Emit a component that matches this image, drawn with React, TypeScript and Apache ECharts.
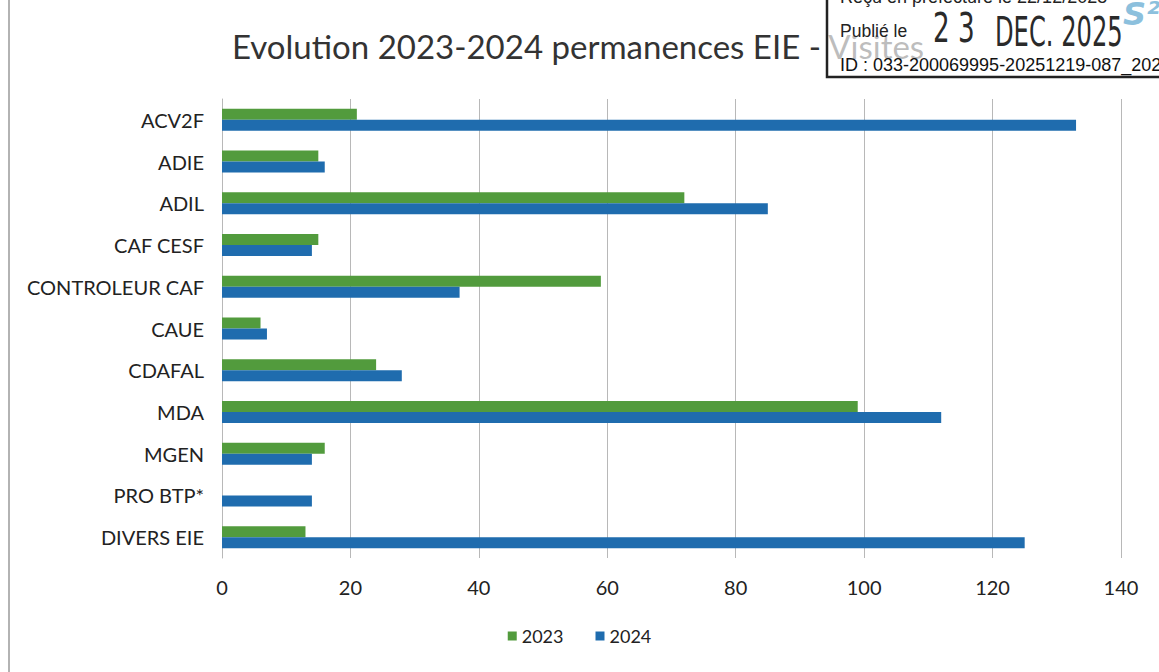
import React, { useEffect, useRef } from "react";
import * as echarts from "echarts";

const categories = [
  "ACV2F",
  "ADIE",
  "ADIL",
  "CAF CESF",
  "CONTROLEUR CAF",
  "CAUE",
  "CDAFAL",
  "MDA",
  "MGEN",
  "PRO BTP*",
  "DIVERS EIE",
];
const seriesNames = ["2023", "2024"];
const values2023 = [21, 15, 72, 15, 59, 6, 24, 99, 16, 0, 13];
const values2024 = [133, 16, 85, 14, 37, 7, 28, 112, 14, 14, 125];
const xMin = 0;
const xMax = 140;
const xInterval = 20;

const titleText = "Evolution 2023-2024 permanences EIE - Visites";
const stampReceived = "Reçu en préfecture le 22/12/2025";
const stampPublished = "Publié le";
const stampDay = "2 3";
const stampMonthYear = "DEC. 2025";
const stampId = "ID : 033-200069995-20251219-087_202";
const stampLogo = "S²L";

export default function App() {
  const ref = useRef<HTMLDivElement>(null);
  useEffect(() => {
    document.body.style.margin = "0";
    if (!ref.current) return;
    const chart = echarts.init(ref.current, undefined, { renderer: "svg" });
    const font = "Lato, 'Open Sans', sans-serif";
    const stampFont = "'Liberation Sans', Arial, sans-serif";
    const stampBigFont = "'DejaVu Sans', sans-serif";
    chart.setOption({
      animation: false,
      backgroundColor: "#ffffff",
      textStyle: { fontFamily: font },
      grid: { left: 222, right: 38, top: 99, bottom: 114, containLabel: false },
      legend: {
        data: seriesNames,
        bottom: 22,
        left: "center",
        itemWidth: 9,
        itemHeight: 9,
        itemGap: 32,
        icon: "rect",
        textStyle: { fontFamily: font, fontSize: 18, color: "#222" },
      },
      xAxis: {
        type: "value",
        min: xMin,
        max: xMax,
        interval: xInterval,
        axisLine: { show: false },
        axisTick: { show: false },
        splitLine: { show: true, lineStyle: { color: "#b8b8b8", width: 1 } },
        axisLabel: { fontFamily: font, fontSize: 20, color: "#222", margin: 19 },
      },
      yAxis: {
        type: "category",
        data: categories,
        inverse: true,
        axisLine: { show: true, lineStyle: { color: "#b8b8b8" } },
        axisTick: { show: false },
        axisLabel: { fontFamily: font, fontSize: 20, color: "#222", margin: 18 },
      },
      series: [
        {
          name: seriesNames[0],
          type: "bar",
          data: values2023,
          barWidth: 11,
          barGap: "0%",
          itemStyle: { color: "#529b3d" },
        },
        {
          name: seriesNames[1],
          type: "bar",
          data: values2024,
          barWidth: 11,
          barGap: "0%",
          itemStyle: { color: "#1f6cae" },
        },
      ],
      graphic: [
        {
          type: "line",
          shape: { x1: 9, y1: 0, x2: 9, y2: 672 },
          style: { stroke: "#9a9a9a", lineWidth: 1.5 },
        },
        {
          type: "text",
          left: 232,
          top: 29,
          style: { text: titleText, fontFamily: font, fontSize: 33, fill: "#333" },
        },
        {
          type: "rect",
          shape: { x: 827, y: -10, width: 360, height: 87 },
          style: { fill: "rgba(255,255,255,0.68)", stroke: "#222", lineWidth: 2.5 },
        },
        {
          type: "text",
          x: 840,
          y: 6,
          style: {
            text: stampReceived,
            fontFamily: stampFont,
            fontSize: 18,
            fill: "#222",
            textVerticalAlign: "bottom",
          },
        },
        {
          type: "text",
          x: 840,
          y: 31,
          style: {
            text: stampPublished,
            fontFamily: stampFont,
            fontSize: 17.5,
            fill: "#222",
            textVerticalAlign: "middle",
          },
        },
        {
          type: "text",
          x: 933,
          y: 28,
          scaleX: 0.64,
          style: {
            text: stampDay,
            fontFamily: stampBigFont,
            fontSize: 41,
            fill: "#2a2a2a",
            textVerticalAlign: "middle",
          },
        },
        {
          type: "text",
          x: 995,
          y: 32,
          scaleX: 0.59,
          style: {
            text: stampMonthYear,
            fontFamily: stampBigFont,
            fontSize: 41,
            fill: "#2a2a2a",
            textVerticalAlign: "middle",
          },
        },
        {
          type: "text",
          x: 1123,
          y: 14,
          style: {
            text: stampLogo,
            fontFamily: stampBigFont,
            fontSize: 32,
            fontWeight: "bold",
            fontStyle: "italic",
            fill: "#8cc0dd",
            textVerticalAlign: "middle",
          },
        },
        {
          type: "text",
          x: 840,
          y: 65,
          style: {
            text: stampId,
            fontFamily: stampFont,
            fontSize: 18,
            fill: "#111",
            textVerticalAlign: "middle",
          },
        },
      ],
    });
    return () => chart.dispose();
  }, []);
  return <div ref={ref} style={{ width: 1159, height: 672 }} />;
}
